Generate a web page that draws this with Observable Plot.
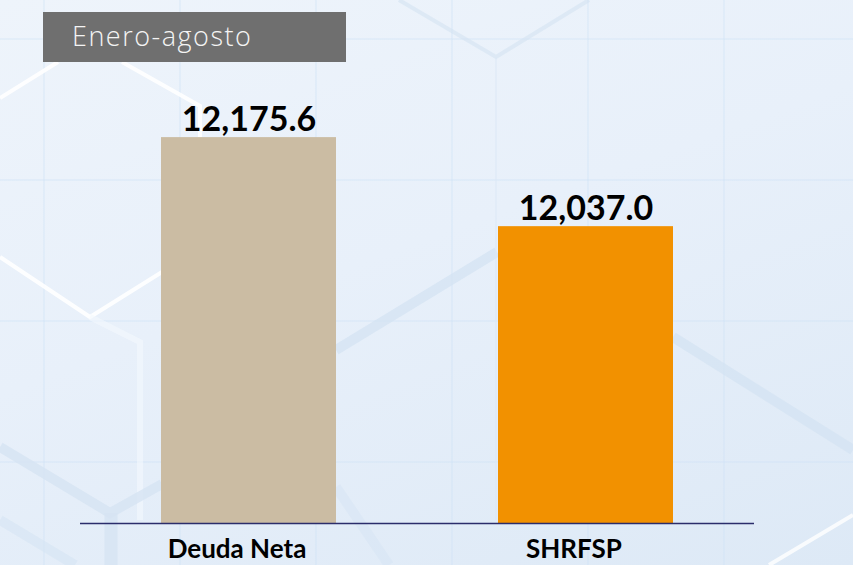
<!DOCTYPE html>
<html>
<head>
<meta charset="utf-8">
<script src="https://cdn.jsdelivr.net/npm/d3@7"></script>
<script src="https://cdn.jsdelivr.net/npm/@observablehq/plot@0.6"></script>
<style>
  html, body { margin: 0; padding: 0; }
  body { width: 853px; height: 565px; overflow: hidden; }
  #wrap {
    position: relative; width: 853px; height: 565px;
    background:
      linear-gradient(90deg, rgba(205,225,245,0.32) 0 2px, transparent 2px) 43px 0 / 136px 100%,
      linear-gradient(0deg, rgba(205,225,245,0.32) 0 2px, transparent 2px) 0 40px / 100% 141px,
      linear-gradient(160deg, #eef4fb 0%, #e8f0fa 45%, #dde9f6 100%);
  }
  #deco { position: absolute; left: 0; top: 0; z-index: 0; }
  #title {
    position: absolute; left: 43px; top: 12px; width: 303px; height: 50px;
    background: #6f6f6f; color: #f4f4f4;
    font-family: "Source Sans Pro", "Open Sans", sans-serif; font-weight: 300;
    font-size: 27px; letter-spacing: 1.5px; line-height: 48px;
    padding-left: 29px; box-sizing: border-box; z-index: 2;
  }
  #chart { position: absolute; left: 0; top: 0; z-index: 1; }
</style>
</head>
<body>
<div id="wrap">
  <svg id="deco" width="853" height="565" xmlns="http://www.w3.org/2000/svg">
    <g fill="none" stroke-linecap="butt">
      <polyline points="0,98 58,62" stroke="#ffffff" stroke-width="4" opacity="0.9"/>
      <polyline points="122,62 200,106 200,137" stroke="#ffffff" stroke-width="4" opacity="0.9"/>
      <polyline points="0,257 90,317 162,272" stroke="#ffffff" stroke-width="4" opacity="0.9"/>
      <polyline points="90,317 140,342 140,520" stroke="#f4f8fd" stroke-width="6" opacity="0.6"/>
      <polyline points="0,447 110,513 162,484" stroke="#d6e4f3" stroke-width="10" opacity="0.8"/>
      <polyline points="111,513 111,565" stroke="#d6e4f3" stroke-width="13" opacity="0.8"/>
      <polyline points="336,350 497,252" stroke="#d3e2f2" stroke-width="10" opacity="0.7"/>
      <polyline points="673,337 853,450" stroke="#d3e2f2" stroke-width="10" opacity="0.7"/>
      <polyline points="0,520 75,565" stroke="#d6e4f3" stroke-width="10" opacity="0.6"/>
      <polyline points="336,487 389,565" stroke="#d6e4f3" stroke-width="10" opacity="0.5"/>
      <polyline points="399,0 496,57 589,0" stroke="#d3e2f2" stroke-width="4" opacity="0.6"/>
      <polyline points="496,57 496,520" stroke="#dbe7f5" stroke-width="2" opacity="0.5"/>
      <polyline points="769,565 853,515" stroke="#ffffff" stroke-width="4" opacity="0.8"/>
    </g>
  </svg>
  <div id="title">Enero-agosto</div>
  <div id="chart"></div>
</div>
<script>
const categories = ["Deuda Neta", "SHRFSP"];
const values = [12175.6, 12037.0];
const valueLabels = ["12,175.6", "12,037.0"];
const colors = ["#cbbca3", "#f29100"];

const data = categories.map((c, i) => ({cat: c, value: values[i], label: valueLabels[i], color: colors[i]}));
const yBase = 11575;

const chart = Plot.plot({
  width: 853,
  height: 565,
  marginTop: 0,
  marginBottom: 42,
  marginLeft: 80,
  marginRight: 99,
  style: {background: "transparent", fontFamily: "Lato, 'Open Sans', sans-serif", overflow: "visible"},
  x: {domain: categories, paddingInner: 0.48, paddingOuter: 0.24, label: null},
  y: {domain: [yBase, 12389], axis: null},
  marks: [
    Plot.barY(data, {x: "cat", y1: yBase, y2: "value", fill: "color"}),
    Plot.ruleY([yBase], {stroke: "#2b2d6b", strokeWidth: 1.5}),
    Plot.text(data, {x: "cat", y: "value", text: "label", dy: -7, lineAnchor: "bottom",
      fontSize: 34, fontWeight: 700, fill: "#000"}),
    Plot.axisX({tickSize: 0, tickPadding: 16, fontSize: 26, fontWeight: 700, fill: "#000", dx: -12, label: null})
  ]
});
document.getElementById("chart").appendChild(chart);
</script>
</body>
</html>
